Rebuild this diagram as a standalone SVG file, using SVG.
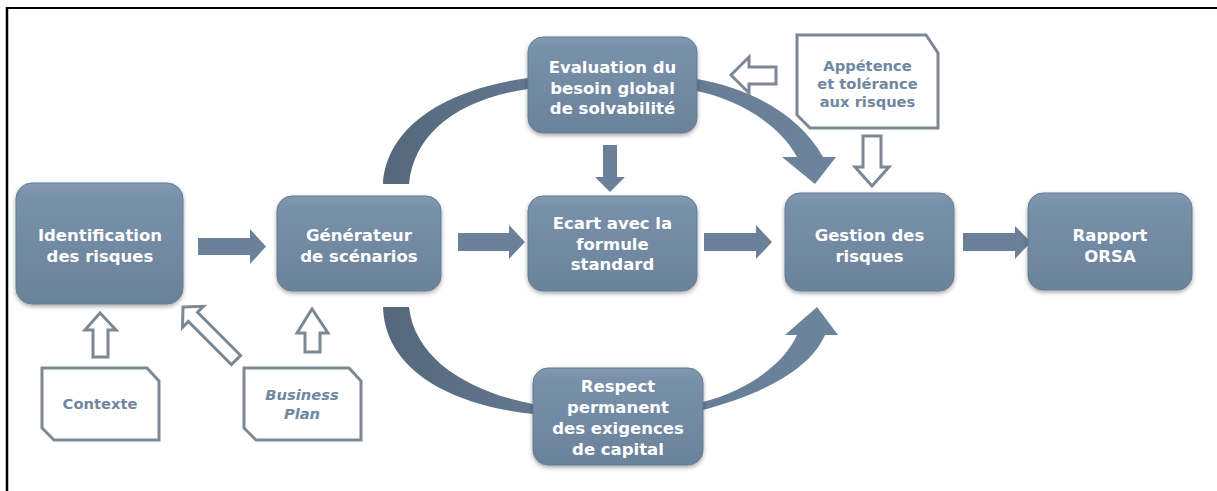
<svg xmlns="http://www.w3.org/2000/svg" width="1217" height="491" viewBox="0 0 1217 491">
<style>
.box{fill:url(#gBox);stroke:#647b93;stroke-width:1;filter:url(#sh)}
.bt{font-family:"DejaVu Sans","Liberation Sans",sans-serif;font-weight:bold;font-size:16.5px;fill:#ffffff;text-anchor:middle}
.doc{fill:#ffffff;stroke:#7d8893;stroke-width:3;stroke-linejoin:miter}
.dt{font-family:"DejaVu Sans","Liberation Sans",sans-serif;font-weight:bold;font-size:14.7px;fill:#6f87a0;text-anchor:middle}
.solid{fill:#6a8199}
.hollow{fill:#ffffff;stroke:#7d8893;stroke-width:3;stroke-linejoin:miter}
</style>
<defs>
<linearGradient id="gBox" x1="0" y1="0" x2="0" y2="1">
<stop offset="0" stop-color="#8299b1"/>
<stop offset="0.12" stop-color="#7890a9"/>
<stop offset="1" stop-color="#6b829b"/>
</linearGradient>
<linearGradient id="gArcL" x1="383" y1="0" x2="530" y2="0" gradientUnits="userSpaceOnUse">
<stop offset="0" stop-color="#54677b"/>
<stop offset="1" stop-color="#627890"/>
</linearGradient>
<linearGradient id="gArcR" x1="697" y1="0" x2="840" y2="0" gradientUnits="userSpaceOnUse">
<stop offset="0" stop-color="#667d95"/>
<stop offset="1" stop-color="#6d849d"/>
</linearGradient>
<filter id="sh" x="-10%" y="-10%" width="120%" height="130%">
<feDropShadow dx="0" dy="2" stdDeviation="2" flood-color="#000000" flood-opacity="0.35"/>
</filter>
</defs>
<rect x="0" y="0" width="1217" height="491" fill="#ffffff"/>
<g id="frame">
<line x1="7" y1="8" x2="1217" y2="8" stroke="#000000" stroke-width="2"/>
<line x1="7" y1="7" x2="7" y2="491" stroke="#000000" stroke-width="2.5"/>
</g>
<g id="connectors">
<path class="solid" d="M198,238 L250,238 L250,229 L266,246.5 L250,264 L250,255 L198,255 Z"/>
<path class="solid" d="M458,233 L509,233 L509,225 L525,242 L509,259 L509,251 L458,251 Z"/>
<path class="solid" d="M704,233 L756,233 L756,225 L772,242 L756,259 L756,251 L704,251 Z"/>
<path class="solid" d="M963,233 L1015,233 L1015,226 L1031,242 L1015,259 L1015,251 L963,251 Z"/>
<path class="solid" d="M603,145 L617,145 L617,177 L625,177 L610,192 L595,177 L603,177 Z"/>
<path fill="url(#gArcL)" d="M383,184 C386,130 440,90 528,78 L528,89 C455,100 414,135 409,184 Z"/>
<path fill="url(#gArcR)" d="M697,79 C750,88 800,115 823,157 L836,157 L815,184 L782,157 L797,157 C780,125 740,100 697,91 Z"/>
<path fill="url(#gArcL)" d="M383,307 C385,370 450,405 533,414 L533,404 C470,392 415,360 409,307 Z"/>
<path fill="url(#gArcR)" d="M703,410 C760,395 810,370 825,335 L838,335 L817,307 L785,335 L797,335 C785,362 750,390 703,402 Z"/>
<path class="hollow" d="M93,357 L93,330 L85,330 L100,313 L116,330 L108,330 L108,357 Z"/>
<path class="hollow" d="M305,352 L305,333 L297,333 L312,309 L328,333 L320,333 L320,352 Z"/>
<path class="hollow" d="M183,307 L203.5,306.3 L197.5,312.3 L240.6,355.4 L231.4,364.6 L188.3,321.5 L182.5,327.5 Z"/>
<path class="hollow" d="M776,67 L749,67 L749,57 L731,75 L749,93 L749,84 L776,84 Z"/>
<path class="hollow" d="M863,136 L863,167 L855,167 L872,186 L889,167 L881,167 L881,136 Z"/>
</g>
<g id="n-identification">
<rect class="box" x="16" y="183" width="167" height="121" rx="16"/>
<text class="bt" x="100" y="241">Identification</text>
<text class="bt" x="100" y="262">des risques</text>
</g>
<g id="n-generateur">
<rect class="box" x="277" y="196" width="164" height="95" rx="15"/>
<text class="bt" x="359" y="241">Générateur</text>
<text class="bt" x="359" y="262">de scénarios</text>
</g>
<g id="n-evaluation">
<rect class="box" x="528" y="37" width="169" height="96" rx="15"/>
<text class="bt" x="612.5" y="73">Evaluation du</text>
<text class="bt" x="612.5" y="94">besoin global</text>
<text class="bt" x="612.5" y="114">de solvabilité</text>
</g>
<g id="n-ecart">
<rect class="box" x="528" y="196" width="169" height="95" rx="15"/>
<text class="bt" x="612.5" y="229">Ecart avec la</text>
<text class="bt" x="612.5" y="250">formule</text>
<text class="bt" x="612.5" y="270">standard</text>
</g>
<g id="n-gestion">
<rect class="box" x="785" y="193" width="169" height="98" rx="15"/>
<text class="bt" x="869.5" y="241">Gestion des</text>
<text class="bt" x="869.5" y="262">risques</text>
</g>
<g id="n-rapport">
<rect class="box" x="1028" y="193" width="164" height="97" rx="15"/>
<text class="bt" x="1110" y="241">Rapport</text>
<text class="bt" x="1110" y="262">ORSA</text>
</g>
<g id="n-respect">
<rect class="box" x="533" y="368" width="170" height="97" rx="15"/>
<text class="bt" x="618" y="392">Respect</text>
<text class="bt" x="618" y="413">permanent</text>
<text class="bt" x="618" y="434">des exigences</text>
<text class="bt" x="618" y="455">de capital</text>
</g>
<g id="n-contexte">
<path class="doc" d="M42,368 L147,368 L159,381 L159,440 L54,440 L42,428 Z"/>
<text class="dt" x="100" y="409">Contexte</text>
</g>
<g id="n-business">
<path class="doc" d="M244,368 L349,368 L361,381 L361,440 L256,440 L244,428 Z"/>
<text class="dt" x="302" y="400" font-style="italic">Business</text>
<text class="dt" x="302" y="419" font-style="italic">Plan</text>
</g>
<g id="n-appetence">
<path class="doc" d="M797,35 L926,35 L938,53 L938,128 L810,128 L797,115 Z"/>
<text class="dt" x="867.5" y="71">Appétence</text>
<text class="dt" x="867.5" y="89">et tolérance</text>
<text class="dt" x="867.5" y="107">aux risques</text>
</g>
</svg>
